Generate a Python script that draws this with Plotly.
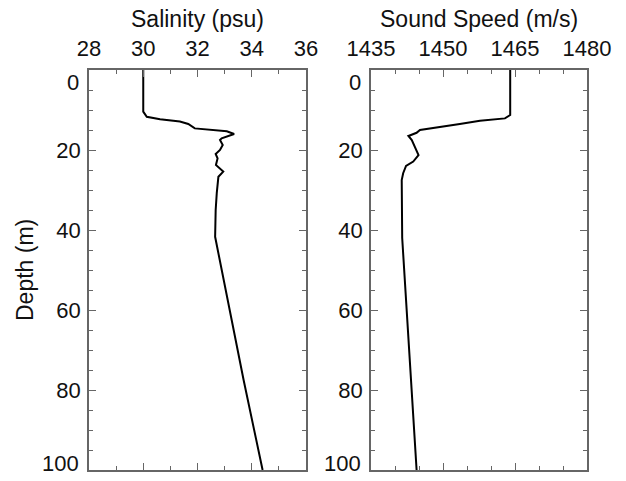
import plotly.graph_objects as go

# ---- data ----
sal_depth = [0, 10.4, 11.7, 12.3, 12.9, 13.5, 14.6, 15.0, 15.3, 16.0, 17.1, 17.5, 18.75,
             20, 21, 22.1, 23.75, 25.4, 26.7, 30.8, 35, 41.7, 47.5, 60, 77.5, 100]
salinity = [30.0, 30.0, 30.13, 30.62, 31.35, 31.66, 31.9, 32.58, 33.08, 33.35, 32.89, 32.83, 32.93,
            32.83, 32.67, 32.74, 32.68, 32.95, 32.77, 32.71, 32.67, 32.65, 32.82, 33.19, 33.7, 34.4]

ss_depth = [0, 11.25, 12.1, 12.7, 13.5, 14.4, 15.0, 15.7, 16.5, 17.5, 19.2, 21.25, 22.9,
            24.0, 25.8, 27.5, 42, 77.5, 100]
sound_speed = [1464.0, 1464.0, 1462.9, 1457.7, 1453.5, 1448.7, 1445.2, 1444.5, 1442.8, 1443.5,
               1444.2, 1444.9, 1443.8, 1442.3, 1441.7, 1441.4, 1441.5, 1443.3, 1444.5]

sal_ticks = [28, 30, 32, 34, 36]
ss_ticks = [1435, 1450, 1465, 1480]
depth_ticks = [0, 20, 40, 60, 80, 100]
inner_depth_ticks = depth_ticks[1:-1]

W, H = 626, 481
FONT = "Liberation Sans, Arial, Helvetica, sans-serif"
TXT = "#111111"
AX = "#666666"
TICKSIZE = 22
TITLESIZE = 23

fig = go.Figure()
fig.add_trace(go.Scatter(x=salinity, y=sal_depth, mode="lines",
                         line=dict(color="black", width=2), xaxis="x", yaxis="y"))
fig.add_trace(go.Scatter(x=sound_speed, y=ss_depth, mode="lines",
                         line=dict(color="black", width=2), xaxis="x2", yaxis="y2"))

def xax(domain, rng, ticks, minor_dtick, anchor):
    return dict(domain=domain, range=rng, side="top", tickvals=ticks,
                ticktext=[str(t) for t in ticks], ticks="inside", ticklen=7, tickwidth=1.2,
                tickcolor=AX, showline=True, linecolor=AX, linewidth=1.5, mirror="allticks",
                showgrid=False, zeroline=False, anchor=anchor, automargin=False,
                ticklabelstandoff=3,
                tickfont=dict(family=FONT, size=TICKSIZE, color=TXT),
                minor=dict(dtick=minor_dtick, ticks="inside", ticklen=4, tickcolor=AX, tickwidth=1.2,
                           tick0=rng[0], showgrid=False))

def yax(domain, anchor):
    return dict(domain=domain, range=[100, 0], tickvals=inner_depth_ticks,
                ticktext=[str(t) for t in inner_depth_ticks], ticks="inside", ticklen=7, tickwidth=1.2,
                tickcolor=AX, showline=True, linecolor=AX, linewidth=1.5, mirror="allticks",
                showgrid=False, zeroline=False, anchor=anchor, automargin=False,
                ticklabelstandoff=2,
                tickfont=dict(family=FONT, size=TICKSIZE, color=TXT),
                minor=dict(dtick=5, tick0=0, ticks="inside", ticklen=4, tickcolor=AX, tickwidth=1.2,
                           showgrid=False))

ydom = [1 - 470 / H, 1 - 70 / H]
x1dom = [89 / W, 306 / W]
x2dom = [371 / W, 587 / W]

annotations = [
    dict(text="Salinity (psu)", x=(x1dom[0] + x1dom[1]) / 2, y=1 - 19 / H,
         xref="paper", yref="paper", xanchor="center", yanchor="middle", showarrow=False,
         font=dict(family=FONT, size=TITLESIZE, color=TXT)),
    dict(text="Sound Speed (m/s)", x=(x2dom[0] + x2dom[1]) / 2, y=1 - 19 / H,
         xref="paper", yref="paper", xanchor="center", yanchor="middle", showarrow=False,
         font=dict(family=FONT, size=TITLESIZE, color=TXT)),
    dict(text="Depth (m)", x=25 / W, y=(ydom[0] + ydom[1]) / 2, textangle=-90,
         xref="paper", yref="paper", xanchor="center", yanchor="middle", showarrow=False,
         font=dict(family=FONT, size=TITLESIZE, color=TXT)),
]
# end labels of the depth axes, nudged inward as in the reference
for xdom, yref in [(x1dom, "y"), (x2dom, "y2")]:
    for val, shift in [(depth_ticks[0], -12), (depth_ticks[-1], 7)]:
        annotations.append(dict(text=str(val), x=xdom[0] - 8 / W, y=val, xref="paper", yref=yref,
                                xanchor="right", yanchor="middle", yshift=shift, showarrow=False,
                                font=dict(family=FONT, size=TICKSIZE, color=TXT)))

fig.update_layout(
    width=W, height=H, margin=dict(l=0, r=0, t=0, b=0),
    paper_bgcolor="white", plot_bgcolor="white", showlegend=False,
    xaxis=xax(x1dom, [28, 36], sal_ticks, 1, "y"),
    yaxis=yax(ydom, "x"),
    xaxis2=xax(x2dom, [1435, 1480], ss_ticks, 5, "y2"),
    yaxis2=yax(ydom, "x2"),
    annotations=annotations,
)

fig.write_html("out.html")
